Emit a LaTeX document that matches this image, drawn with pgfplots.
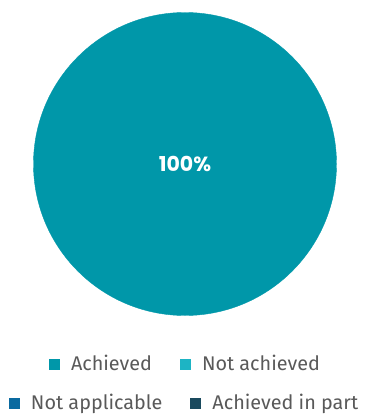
\documentclass[border=0pt]{standalone}
\usepackage{fontspec}
\setmainfont{Fira Sans}
\newfontfamily\popfont{Poppins}
\usepackage{pgfplots}
\usepackage{pgfplotstable}
\pgfplotsset{compat=1.18}
\definecolor{achieved}{HTML}{0097A9}
\definecolor{notachieved}{HTML}{1DB4C4}
\definecolor{notapplicable}{HTML}{0A6AA0}
\definecolor{inpart}{HTML}{1A4A5E}
\definecolor{textgray}{HTML}{595959}
% category shares (percent); pie centre and radius in px
\pgfplotstableread{
x y value
185 164 100
}\piedata
\begin{document}
\begin{tikzpicture}
\pgfplotsset{
  base/.style={width=364pt, height=414pt, scale only axis, xmin=0, xmax=364, ymin=0, ymax=414,
    y dir=reverse, hide axis, clip=false,
    legend columns=2,
    legend image code/.code={\fill[##1] (0pt,-5.5pt) rectangle (11pt,5.5pt);},
    legend style={draw=none, fill=none, inner sep=0pt, outer sep=0pt,
      font=\fontsize{19.8}{22}\selectfont, text=textgray,
      nodes={inner sep=0pt},
      /tikz/every odd column/.append style={column sep=11pt},
      /tikz/every even column/.append style={column sep=28pt}}}
}
\begin{axis}[base, name=main,
  legend style={at={(axis cs:49,364)}, anchor=west}]
\addplot[only marks, mark=*, mark size=151.5pt, color=achieved, forget plot,
  point meta=explicit, nodes near coords={\pgfmathprintnumber[assume math mode=true]{\pgfplotspointmeta}\%},
  every node near coord/.append style={anchor=center, text=white, font=\popfont\bfseries\fontsize{20.5}{22}\selectfont}]
  table[x=x, y=y, meta=value] {\piedata};
\addlegendimage{fill=achieved, draw=none}
\addlegendentry{Achieved}
\addlegendimage{fill=notachieved, draw=none}
\addlegendentry{Not achieved}
\end{axis}
\begin{axis}[base,
  legend style={at={(axis cs:9,403)}, anchor=west}]
\addlegendimage{fill=notapplicable, draw=none}
\addlegendentry{Not applicable}
\addlegendimage{fill=inpart, draw=none}
\addlegendentry{Achieved in part}
\end{axis}
\pgfresetboundingbox
\path (main.south west) rectangle (main.north east);
\end{tikzpicture}
\end{document}
